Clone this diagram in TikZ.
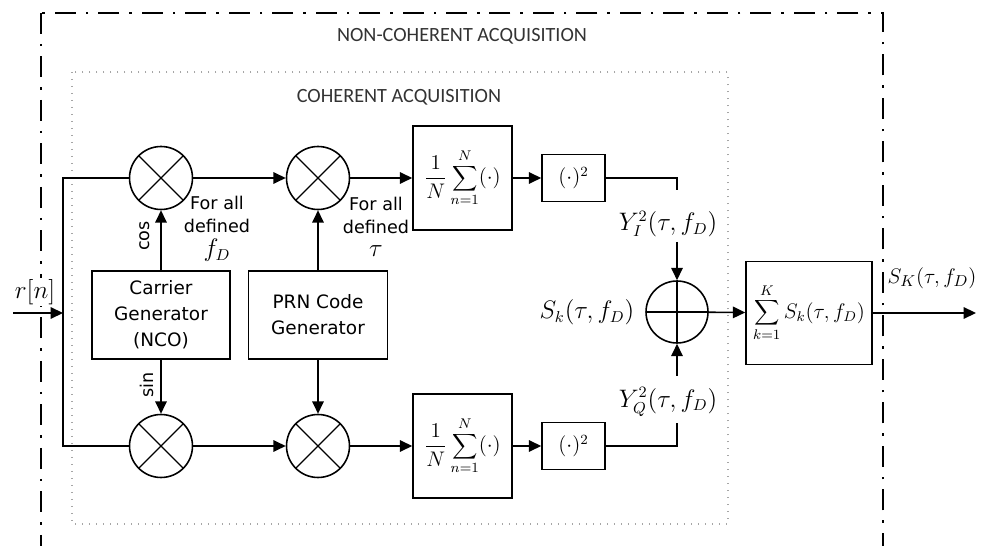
\documentclass[tikz,border=0pt]{standalone}
\usepackage{fontspec}
\setmainfont{DejaVu Sans}
\newfontfamily\titlefont{Carlito}
\usetikzlibrary{arrows.meta}

\begin{document}
\begin{tikzpicture}[x=0.02cm, y=-0.02cm,
    % Styles
    blockbox/.style={draw, line width=0.9pt, inner sep=0pt, align=center, font=\fontsize{10.5}{14.8}\selectfont},
    mixer/.style={draw, circle, line width=0.9pt, minimum size=1.26cm, inner sep=0pt,
        path picture={\draw[line width=0.7pt] (path picture bounding box.north west) -- (path picture bounding box.south east)
            (path picture bounding box.north east) -- (path picture bounding box.south west);}},
    adder/.style={draw, circle, line width=0.9pt, minimum size=1.24cm, inner sep=0pt,
        path picture={\draw[line width=0.7pt] (path picture bounding box.north) -- (path picture bounding box.south)
            (path picture bounding box.west) -- (path picture bounding box.east);}},
    sig/.style={-{Triangle[length=7pt, width=6.5pt]}, line width=0.9pt},
    wire/.style={line width=0.9pt},
    mathlabel/.style={font=\fontsize{13.5}{16}\selectfont},
    boxmath/.style={font=\fontsize{11.5}{14}\selectfont},
    title/.style={font=\titlefont\fontsize{11.5}{14}\selectfont, text=black!80},
    note/.style={align=center, font=\fontsize{10}{13}\selectfont},
]
\useasboundingbox (0,0) rectangle (982,546);

% Frames
\draw[line width=1.1pt, dash pattern=on 0.42cm off 0.2cm on 0.05cm off 0.2cm] (41,13) rectangle (883,580);
\draw[gray!70, line width=0.8pt, dash pattern=on 0.03cm off 0.11cm] (72,72) rectangle (728,524);
\node[title] (noncoh) at (462,36) {NON-COHERENT ACQUISITION};
\node[title] (coh) at (399,97) {COHERENT ACQUISITION};

% Input
\coordinate (in) at (13,313);
\coordinate (split) at (63,313);
\node[mathlabel, fill=white, inner sep=1pt] (rn) at (35,292) {$r[n]$};

% Mixers
\node[mixer] (mixIa) at (161,178) {};
\node[mixer] (mixIb) at (318,178) {};
\node[mixer] (mixQa) at (161,446) {};
\node[mixer] (mixQb) at (318,446) {};

% Generators
\node[blockbox, minimum width=2.76cm, minimum height=1.76cm] (carrier) at (161,315) {Carrier\\Generator\\(NCO)};
\node[blockbox, minimum width=2.78cm, minimum height=1.76cm] (prn) at (318,315) {PRN Code\\Generator};

% Integrate and square
\node[blockbox, boxmath, minimum width=1.98cm, minimum height=2.08cm] (sumI) at (462.5,178) {$\displaystyle\frac{1}{N}\sum_{n=1}^{N}(\cdot)$};
\node[blockbox, boxmath, minimum width=1.98cm, minimum height=2.08cm] (sumQ) at (462.5,446) {$\displaystyle\frac{1}{N}\sum_{n=1}^{N}(\cdot)$};
\node[blockbox, boxmath, minimum width=1.26cm, minimum height=0.94cm] (sqI) at (573.5,178) {$(\cdot)^2$};
\node[blockbox, boxmath, minimum width=1.26cm, minimum height=0.94cm] (sqQ) at (573.5,446) {$(\cdot)^2$};

% Combining
\node[adder] (adder) at (677,312) {};
\node[blockbox, boxmath, minimum width=2.52cm, minimum height=2.06cm] (accum) at (809,313) {$\displaystyle\sum_{k=1}^{K}S_k(\tau,f_D)$};
\coordinate (yItop) at (677,190);
\coordinate (yIbot) at (677,242);
\coordinate (yQtop) at (677,423);
\coordinate (yQbot) at (677,376);
\coordinate (out) at (976,313);

% Labels
\node[note] (fdnote) at (217,229) {For all\\defined\\[1pt]{\fontsize{13.5}{16}\selectfont$f_D$}};
\node[note] (taunote) at (376,227) {For all\\defined\\[0pt]{\fontsize{13.5}{16}\selectfont$\tau$}};
\node[note, rotate=90] (coslbl) at (145,236) {cos};
\node[note, rotate=90] (sinlbl) at (147,385) {sin};
\node[mathlabel] (yIlbl) at (668,224) {$Y_I^2(\tau,f_D)$};
\node[mathlabel] (yQlbl) at (668,402) {$Y_Q^2(\tau,f_D)$};
\node[mathlabel] (sklbl) at (587,312) {$S_k(\tau,f_D)$};
\node[mathlabel, font=\fontsize{13}{16}\selectfont] (sKlbl) at (932,278) {$S_K(\tau,f_D)$};

% Connections
\draw[sig] (in) -- (split);
\draw[wire] (mixIa.west) -| (split) |- (mixQa.west);
\draw[sig] (mixIa) -- (mixIb);
\draw[sig] (mixQa) -- (mixQb);
\draw[sig] (mixIb) -- (sumI);
\draw[sig] (mixQb) -- (sumQ);
\draw[sig] (sumI) -- (sqI);
\draw[sig] (sumQ) -- (sqQ);
\draw[sig] (carrier) -- (mixIa);
\draw[sig] (carrier) -- (mixQa);
\draw[sig] (prn) -- (mixIb);
\draw[sig] (prn) -- (mixQb);
\draw[wire] (sqI.east) -| (yItop);
\draw[wire] (sqQ.east) -| (yQtop);
\draw[sig] (yIbot) -- (adder.north);
\draw[sig] (yQbot) -- (adder.south);
\draw[sig] (adder) -- (accum);
\draw[sig] (accum) -- (out);

\end{tikzpicture}
\end{document}
